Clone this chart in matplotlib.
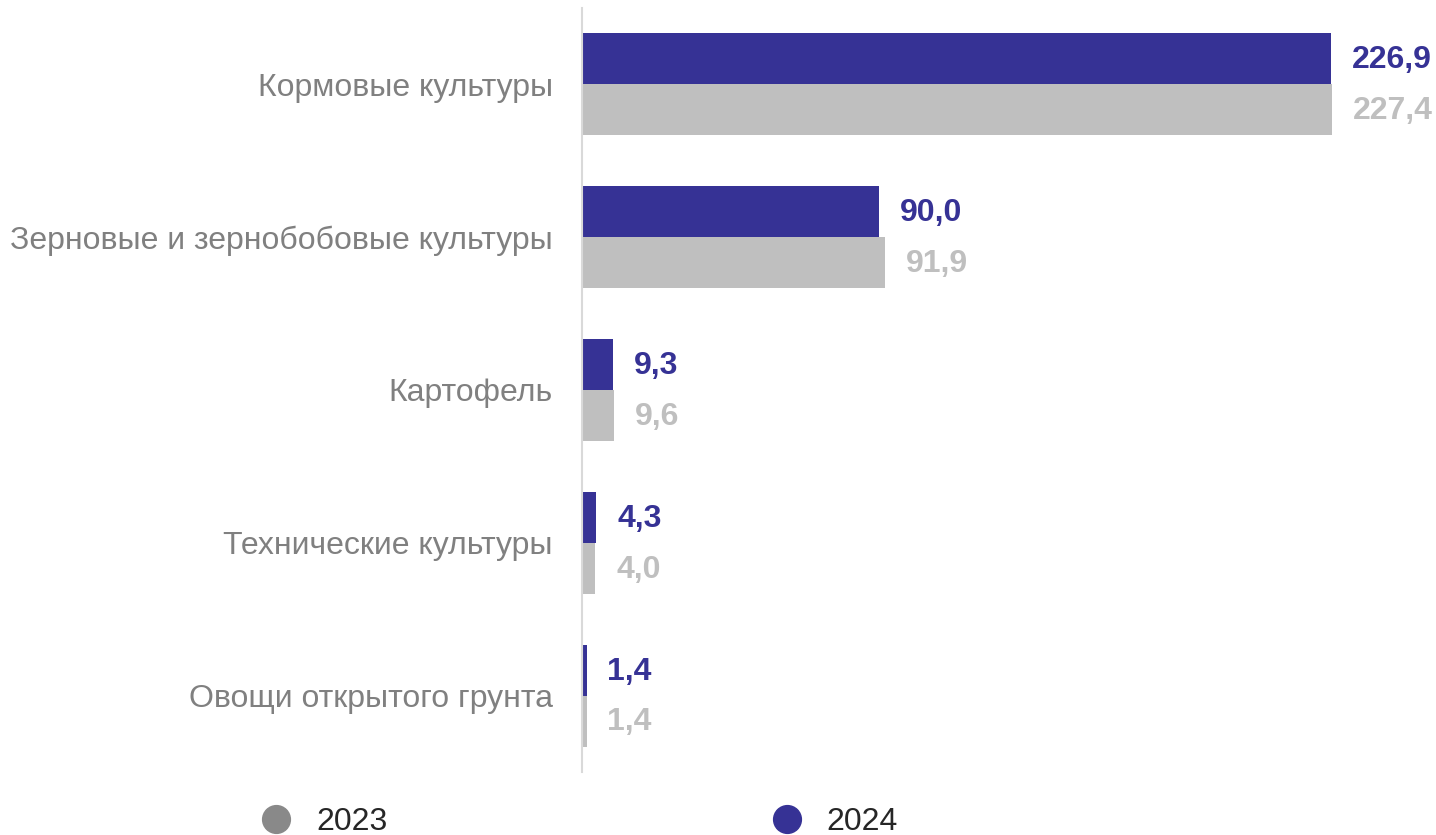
import matplotlib.pyplot as plt
import numpy as np
from matplotlib.lines import Line2D

plt.rcParams["font.family"] = ["Liberation Sans", "DejaVu Sans"]

kategorier = ["Кормовые культуры", "Зерновые и зернобобовые культуры",
              "Картофель", "Технические культуры", "Овощи открытого грунта"]
aar_2023 = [227.4, 91.9, 9.6, 4.0, 1.4]
aar_2024 = [226.9, 90.0, 9.3, 4.3, 1.4]

farve_2024 = "#363295"
farve_2023 = "#bfbfbf"
farve_2023_legende = "#898989"
tekst_graa = "#808080"


def komma(v):
    return f"{v:.1f}".replace(".", ",")


fig = plt.figure(figsize=(14.36, 8.35), dpi=100)
ax = fig.add_axes([582 / 1436, 1 - 772 / 835, (1436 - 582) / 1436, 764 / 835])

y = np.arange(len(kategorier))
h = 1 / 3
ax.barh(y - h / 2, aar_2024, height=h, color=farve_2024)
ax.barh(y + h / 2, aar_2023, height=h, color=farve_2023)

for i in range(len(kategorier)):
    ax.annotate(komma(aar_2024[i]), (aar_2024[i], y[i] - h / 2),
                xytext=(15, -1), textcoords="offset points", va="center",
                ha="left", fontsize=23, fontweight="bold", color=farve_2024)
    ax.annotate(komma(aar_2023[i]), (aar_2023[i], y[i] + h / 2),
                xytext=(15, -1), textcoords="offset points", va="center",
                ha="left", fontsize=23, fontweight="bold", color=farve_2023)

ax.set_xlim(0, (1436 - 582) / 3.30)
ax.set_ylim(len(kategorier) - 0.5, -0.5)
ax.set_yticks(y)
ax.set_yticklabels(kategorier, fontsize=23, color=tekst_graa)
ax.tick_params(axis="y", length=0, pad=21)
ax.set_xticks([])
for side in ["top", "right", "bottom"]:
    ax.spines[side].set_visible(False)
ax.spines["left"].set_color("#d9d9d9")
ax.spines["left"].set_linewidth(1.5)

handles = [
    Line2D([], [], marker="o", linestyle="none", markersize=20,
           color=farve_2023_legende, label="2023"),
    Line2D([], [], marker="o", linestyle="none", markersize=20,
           color=farve_2024, label="2024"),
]
fig.legend(handles=handles, loc="center", bbox_to_anchor=(579 / 1436, 1 - 822 / 835),
           ncol=2, frameon=False, fontsize=23, handlelength=1.0,
           handletextpad=0.75, columnspacing=12.0, labelcolor="#262626")

fig.savefig("out.png", dpi=100)
